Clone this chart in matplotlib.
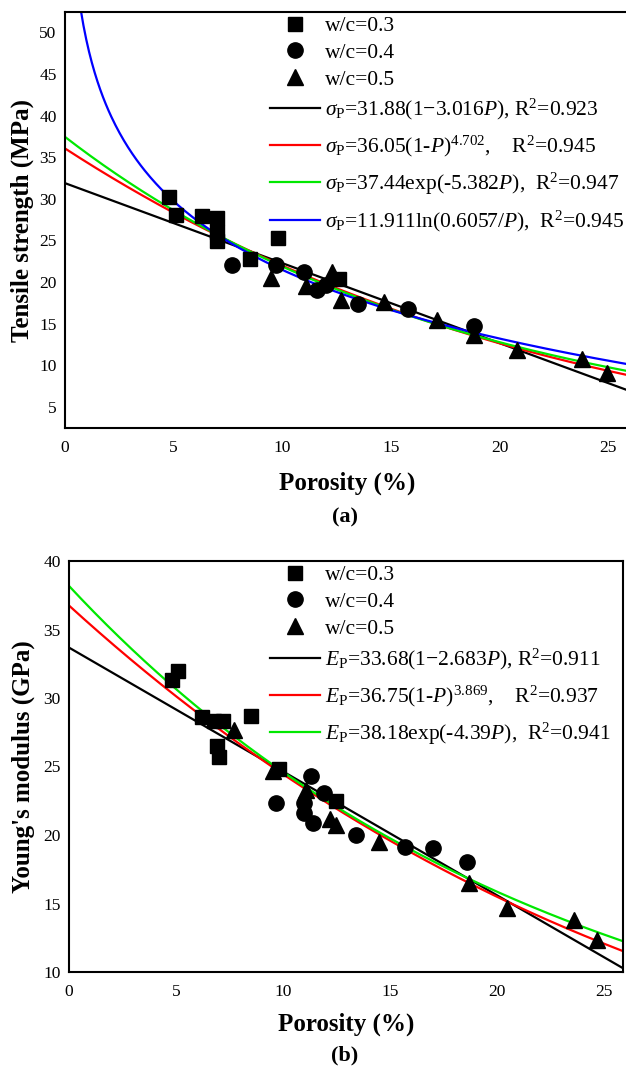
import numpy as np
import matplotlib
matplotlib.use("Agg")
import matplotlib.pyplot as plt
from matplotlib.lines import Line2D

plt.rcParams['font.family'] = ['Liberation Serif', 'DejaVu Serif']
plt.rcParams['mathtext.fontset'] = 'custom'
plt.rcParams['mathtext.rm'] = 'Liberation Serif'
plt.rcParams['mathtext.it'] = 'Liberation Serif:italic'
plt.rcParams['mathtext.bf'] = 'Liberation Serif:bold'

# ---- (a) tensile strength vs porosity ----
ts_sq_x = [4.8, 5.1, 6.3, 7.0, 7.0, 7.0, 8.5, 9.8, 12.6]
ts_sq_y = [30.2, 28.1, 27.9, 27.7, 26.0, 24.9, 22.8, 25.3, 20.3]
ts_ci_x = [7.7, 9.7, 11.0, 11.6, 12.0, 13.5, 15.8, 18.8]
ts_ci_y = [22.0, 22.1, 21.2, 19.0, 19.6, 17.3, 16.8, 14.7]
ts_tr_x = [9.5, 11.1, 12.3, 12.7, 14.7, 17.1, 18.8, 20.8, 23.8, 24.95]
ts_tr_y = [20.5, 19.5, 21.2, 17.8, 17.6, 15.4, 13.6, 11.8, 10.8, 9.1]

# fit coefficients (from the legend)
ts_lin = [31.88, 3.016]
ts_pow = [36.05, 4.702]
ts_exp = [37.44, 5.382]
ts_log = [11.911, 0.6057]

# ---- (b) Young's modulus vs porosity ----
ym_sq_x = [4.8, 5.1, 6.2, 6.8, 7.2, 6.9, 7.0, 8.5, 9.8, 12.5]
ym_sq_y = [31.3, 32.0, 28.6, 28.3, 28.3, 26.5, 25.7, 28.7, 24.8, 22.5]
ym_ci_x = [9.7, 11.0, 11.0, 11.3, 11.4, 11.9, 13.4, 15.7, 17.0, 18.6]
ym_ci_y = [22.3, 22.3, 21.6, 24.3, 20.9, 23.1, 20.0, 19.1, 19.05, 18.0]
ym_tr_x = [7.7, 9.55, 11.1, 12.2, 12.5, 14.5, 18.7, 20.5, 23.6, 24.7]
ym_tr_y = [27.7, 24.7, 23.3, 21.2, 20.7, 19.5, 16.5, 14.7, 13.8, 12.3]

ym_lin = [33.68, 2.683]
ym_pow = [36.75, 3.869]
ym_exp = [38.18, 4.39]

labels_a = [r'$\sigma_{\mathrm{P}}$=31.88(1$-$3.016$P$), R$^{2}$=0.923',
            r'$\sigma_{\mathrm{P}}$=36.05(1-$P$)$^{4.702}$,    R$^{2}$=0.945',
            r'$\sigma_{\mathrm{P}}$=37.44exp(-5.382$P$),  R$^{2}$=0.947',
            r'$\sigma_{\mathrm{P}}$=11.911ln(0.6057/$P$),  R$^{2}$=0.945']
labels_b = [r'$E_{\mathrm{P}}$=33.68(1$-$2.683$P$), R$^{2}$=0.911',
            r'$E_{\mathrm{P}}$=36.75(1-$P$)$^{3.869}$,    R$^{2}$=0.937',
            r'$E_{\mathrm{P}}$=38.18exp(-4.39$P$),  R$^{2}$=0.941']
wc_labels = ['w/c=0.3', 'w/c=0.4', 'w/c=0.5']

fig = plt.figure(figsize=(6.26, 10.69), dpi=100)
W, H = 626, 1069

ax1 = fig.add_axes([65/W, 1-428/H, (630-65)/W, (428-12)/H])
ax2 = fig.add_axes([69/W, 1-972/H, (623-69)/W, (972-561)/H])

P = np.linspace(0.0, 0.26, 400)
Pl = np.linspace(0.004, 0.26, 400)
lw = 1.6
green = '#00e800'

# panel a
ax1.plot(P*100, ts_lin[0]*(1 - ts_lin[1]*P), color='black', lw=lw)
ax1.plot(P*100, ts_pow[0]*(1 - P)**ts_pow[1], color='#ff0000', lw=lw)
ax1.plot(P*100, ts_exp[0]*np.exp(-ts_exp[1]*P), color=green, lw=lw)
ax1.plot(Pl*100, ts_log[0]*np.log(ts_log[1]/Pl), color='#0000ff', lw=lw)
ax1.plot(ts_sq_x, ts_sq_y, 's', color='black', ms=10)
ax1.plot(ts_ci_x, ts_ci_y, 'o', color='black', ms=11)
ax1.plot(ts_tr_x, ts_tr_y, '^', color='black', ms=12)
ax1.set_xlim(0, 26)
ax1.set_ylim(2.45, 52.45)
ax1.set_xticks([0, 5, 10, 15, 20, 25])
ax1.set_yticks([5, 10, 15, 20, 25, 30, 35, 40, 45, 50])
ax1.spines['right'].set_visible(False)
ax1.set_ylabel('Tensile strength (MPa)', fontsize=18, fontweight='bold', labelpad=4)
ax1.set_xlabel('Porosity (%)', fontsize=18, fontweight='bold', labelpad=11)

# panel b
ax2.plot(P*100, ym_lin[0]*(1 - ym_lin[1]*P), color='black', lw=lw)
ax2.plot(P*100, ym_pow[0]*(1 - P)**ym_pow[1], color='#ff0000', lw=lw)
ax2.plot(P*100, ym_exp[0]*np.exp(-ym_exp[1]*P), color=green, lw=lw)
ax2.plot(ym_sq_x, ym_sq_y, 's', color='black', ms=10)
ax2.plot(ym_ci_x, ym_ci_y, 'o', color='black', ms=11)
ax2.plot(ym_tr_x, ym_tr_y, '^', color='black', ms=12)
ax2.set_xlim(0, 25.9)
ax2.set_ylim(10, 40)
ax2.set_xticks([0, 5, 10, 15, 20, 25])
ax2.set_yticks([10, 15, 20, 25, 30, 35, 40])
ax2.set_ylabel("Young's modulus (GPa)", fontsize=18, fontweight='bold', labelpad=6)
ax2.set_xlabel('Porosity (%)', fontsize=18, fontweight='bold', labelpad=9)

for ax in (ax1, ax2):
    ax.tick_params(length=0, labelsize=12.5)
    ax.tick_params(axis='x', pad=9)
    ax.tick_params(axis='y', pad=6)
    for s in ax.spines.values():
        s.set_linewidth(1.5)

marker_handles = [Line2D([], [], ls='none', marker='s', color='black', ms=10),
                  Line2D([], [], ls='none', marker='o', color='black', ms=11),
                  Line2D([], [], ls='none', marker='^', color='black', ms=12)]
line_colors = ['black', '#ff0000', green, '#0000ff']

leg_kw = dict(loc='upper left', frameon=False, fontsize=15.5, handlelength=2.33,
              handletextpad=0.23, borderpad=0.0, borderaxespad=0.0,
              bbox_transform=fig.transFigure)

# panel a legends: symbols, then fitted curves
la1 = ax1.legend(marker_handles, wc_labels, bbox_to_anchor=(270/W, 1-16/H),
                 labelspacing=0.32, **leg_kw)
ax1.add_artist(la1)
ax1.legend([Line2D([], [], color=c, lw=lw) for c in line_colors], labels_a,
           bbox_to_anchor=(270/W, 1-97/H), labelspacing=0.54, **leg_kw)

# panel b legends
lb1 = ax2.legend(marker_handles, wc_labels, bbox_to_anchor=(270/W, 1-565/H),
                 labelspacing=0.32, **leg_kw)
ax2.add_artist(lb1)
ax2.legend([Line2D([], [], color=c, lw=lw) for c in line_colors[:3]], labels_b,
           bbox_to_anchor=(270/W, 1-647/H), labelspacing=0.54, **leg_kw)

fig.text(345/W, 1-517/H, '(a)', ha='center', va='center', fontsize=16, fontweight='bold')
fig.text(345/W, 1-1055/H, '(b)', ha='center', va='center', fontsize=16, fontweight='bold')

fig.savefig('out.png', dpi=100)
